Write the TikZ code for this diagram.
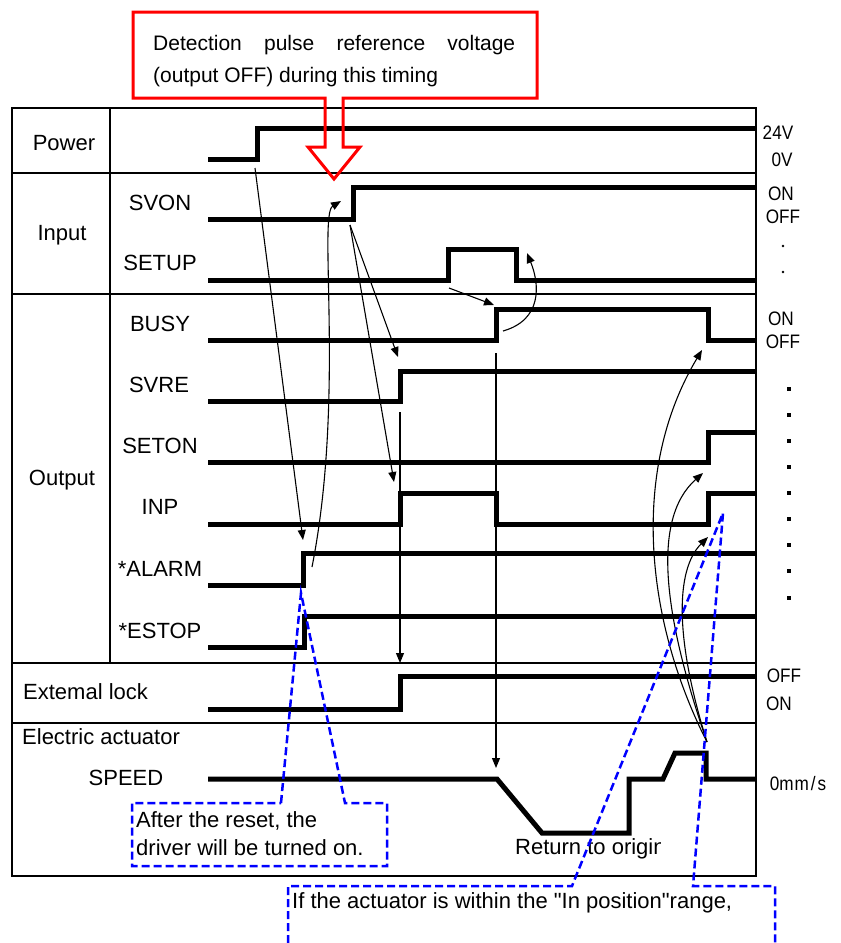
\documentclass[tikz,border=0pt]{standalone}
\usepackage{fontspec}
\setmainfont{Liberation Sans}
\newfontfamily\narrowfont[FakeStretch=0.88]{Liberation Sans}
\newfontfamily\plainquotefont[Ligatures=TeXOff]{Liberation Sans}
\usetikzlibrary{arrows.meta}
\begin{document}
\begin{tikzpicture}[x=1pt,y=-1pt,
  sig/.style={line width=5pt},
  gridline/.style={line width=1.8pt},
  conn/.style={line width=1.1pt,-{Triangle[length=10pt,width=8pt]}},
  lbl/.style={font=\fontsize{22}{26}\selectfont, inner sep=0pt, text height=15.8pt, text depth=0pt},
  rlbl/.style={font=\narrowfont\fontsize{19.5}{22}\selectfont, inner sep=0pt, text height=14pt, text depth=0pt},
  callred/.style={draw=red, line width=3pt},
  callblue/.style={draw=blue, line width=2.5pt, dash pattern=on 8pt off 4pt}
]
\useasboundingbox (0,0) rectangle (841,943);

% table
\draw[gridline] (12,108) rectangle (756,876);
\draw[gridline] (110,108) -- (110,663);
\foreach \y in {173,294,663,723} \draw[gridline] (12,\y) -- (757,\y);

% signals
\draw[sig] (208,159) -- (257,159) -- (257,128) -- (755,128);
\draw[sig] (208,219) -- (353,219) -- (353,187) -- (755,187);
\draw[sig] (208,280) -- (448,280) -- (448,249) -- (516,249) -- (516,280) -- (755,280);
\draw[sig] (208,340) -- (496,340) -- (496,309) -- (708,309) -- (708,340) -- (755,340);
\draw[sig] (208,401) -- (400,401) -- (400,371) -- (755,371);
\draw[sig] (208,462) -- (708,462) -- (708,432) -- (755,432);
\draw[sig] (208,524) -- (400,524) -- (400,493) -- (496,493) -- (496,524) -- (708,524) -- (708,493) -- (755,493);
\draw[sig] (208,585) -- (303,585) -- (303,553) -- (755,553);
\draw[sig] (208,647) -- (304,647) -- (304,616) -- (755,616);
\draw[sig] (208,709) -- (400,709) -- (400,676) -- (755,676);
\draw[sig] (208,779) -- (497,779) -- (542,833) -- (629,833) -- (629,779) -- (663,779) -- (675,753) -- (706,753) -- (706,779) -- (755,779);

% left labels
\node[lbl] (power) at (64,143) {Power};
\node[lbl] (input) at (62,233) {Input};
\node[lbl] (output) at (62,478) {Output};
\node[lbl] (svon) at (160,203) {SVON};
\node[lbl] (setup) at (160,263) {SETUP};
\node[lbl] (busy) at (160,324) {BUSY};
\node[lbl] (svre) at (159,385) {SVRE};
\node[lbl] (seton) at (160,446) {SETON};
\node[lbl] (inp) at (160,507) {INP};
\node[lbl] (alarm) at (160,569) {*ALARM};
\node[lbl] (estop) at (160,631) {*ESTOP};
\node[lbl,anchor=west] (ext) at (23,692) {Extemal lock};
\node[lbl,anchor=west] (elec) at (22,737) {Electric actuator};
\node[lbl] (speed) at (126,778) {SPEED};

% right labels
\node[rlbl] (v24) at (778,132) {24V};
\node[rlbl] (v0) at (782,159) {0V};
\node[rlbl] (ion) at (781,193) {ON};
\node[rlbl] (ioff) at (783,216) {OFF};
\fill (783,246) circle (1.3);
\fill (783,272) circle (1.3);
\node[rlbl] (oon) at (781,318) {ON};
\node[rlbl] (ooff) at (783,341) {OFF};
\foreach \y in {389,415,441,467,493,519,545,571,598}
  \fill (787.3,\y-1.7) rectangle ++(3.4,3.4);
\node[rlbl] (eoff) at (784,675) {OFF};
\node[rlbl] (eon) at (779,703) {ON};
\node[rlbl] (mms) at (798,783) {0m\kern1pt m\kern2pt/\kern2pt s};

% return to origin (clipped)
\begin{scope}
\clip (500,825) rectangle (660,870);
\node[lbl,anchor=west] (ret) at (515,847) {Return to origin};
\end{scope}

% connectors
\coordinate (pwrE) at (255,168);
\coordinate (almA) at (303,540);
\draw[conn] (pwrE) -- (almA);
\coordinate (almE) at (312,567);
\coordinate (svonA) at (341,201);
\draw[conn] (almE) .. controls (345,400) and (318,215) .. (svonA);
\coordinate (svonE) at (350,225);
\coordinate (svreA) at (398,357);
\coordinate (inpA) at (394,482);
\draw[conn] (svonE) -- (svreA);
\draw[conn] (svonE) -- (inpA);
\coordinate (svreE) at (400,412);
\coordinate (extA) at (400,663);
\draw[conn] (svreE) -- (extA);
\coordinate (busyE) at (496,353);
\coordinate (spdA) at (496,768);
\draw[conn] (busyE) -- (spdA);
\coordinate (setupE) at (449,288);
\coordinate (busyA) at (494,305);
\draw[conn] (setupE) -- (busyA);
\coordinate (busyR) at (503,331);
\coordinate (setupA) at (527,253);
\draw[conn] (busyR) .. controls (542,320) and (540,285) .. (setupA);
\coordinate (spdE) at (707,742);
\coordinate (busyF) at (702,350);
\coordinate (setonA) at (703,473);
\coordinate (inpB) at (708,537);
\draw[conn] (spdE) .. controls (645,620) and (630,470) .. (busyF);
\draw[conn] (spdE) .. controls (665,620) and (650,520) .. (setonA);
\draw[conn] (spdE) .. controls (675,640) and (675,570) .. (inpB);

% red callout
\draw[callred] (133,12) -- (537,12) -- (537,98) -- (343,98) -- (343,147) -- (360,147) -- (334,179) -- (308,147) -- (325,147) -- (325,98) -- (133,98) -- cycle;
\node[lbl,font=\fontsize{21}{25}\selectfont,anchor=west] (cap1) at (153,43) {\hbox to 362pt{Detection\hfill pulse\hfill reference\hfill voltage}};
\node[lbl,font=\fontsize{21}{25}\selectfont,anchor=west] (cap2) at (153,75) {(output OFF) during this timing};

% blue callouts
\draw[callblue] (281,803) -- (301,593) -- (345,803) -- (387,803) -- (387,866) -- (132,866) -- (132,803) -- cycle;
\node[lbl,anchor=west] (reset1) at (136,820) {After the reset, the};
\node[lbl,anchor=west] (reset2) at (136,848) {driver will be turned on.};
\draw[callblue] (288,943) -- (288,886) -- (572,886) -- (723,513) -- (693,886) -- (775,886) -- (775,943);
\node[lbl,anchor=west,font=\plainquotefont\fontsize{22}{26}\selectfont] (inpos) at (292,901) {If the actuator is within the "In position"range,};
\end{tikzpicture}
\end{document}
